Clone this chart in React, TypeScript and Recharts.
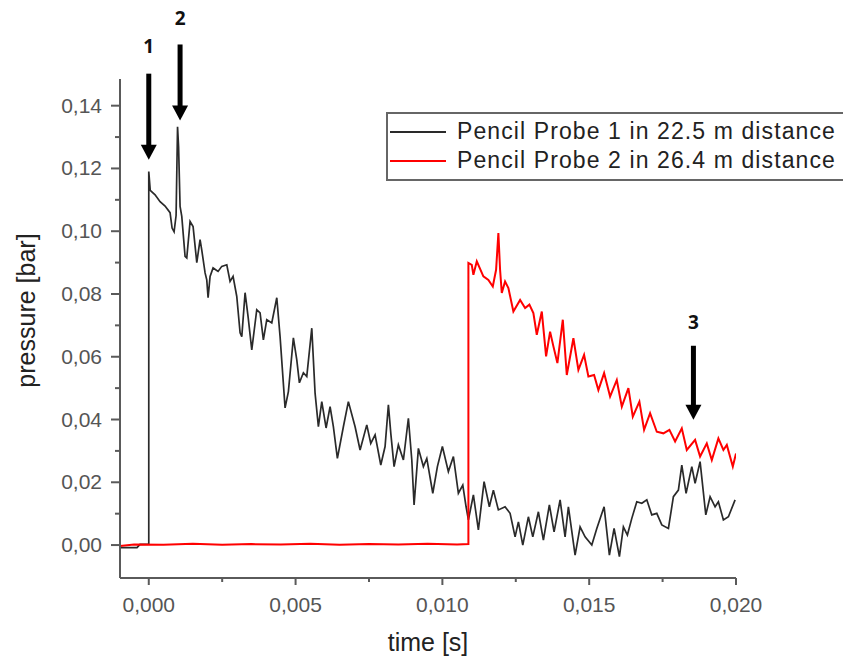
import React from 'react';
import { LineChart, Line, XAxis, YAxis, ReferenceLine, ReferenceDot, Legend } from 'recharts';

// ---- data (time [s], pressure [bar]) ----
const probe1Samples: [number, number][] = [
  [-0.00098, -0.0008], [-0.0004, -0.0008], [-0.0003, 0.0002], [0, 0.0003], [0, 0.119],
  [0.00005, 0.113], [0.000215, 0.1116], [0.000385, 0.1094], [0.000555, 0.108], [0.000725, 0.1059],
  [0.000794, 0.101], [0.000862, 0.0998], [0.00093, 0.105], [0.00098, 0.1333], [0.001015, 0.127],
  [0.001066, 0.1079], [0.001124, 0.1047], [0.001236, 0.092], [0.001294, 0.0915], [0.001407, 0.1031],
  [0.001509, 0.1015], [0.001635, 0.09], [0.001747, 0.0973], [0.001805, 0.094], [0.001918, 0.0867],
  [0.001975, 0.0845], [0.00202, 0.0788], [0.002088, 0.0856], [0.00219, 0.0883], [0.00236, 0.0872],
  [0.002486, 0.0888], [0.002657, 0.0893], [0.002769, 0.084], [0.002871, 0.0856], [0.002997, 0.0792],
  [0.00311, 0.0676], [0.003168, 0.0664], [0.00328, 0.0804], [0.003382, 0.0728], [0.003508, 0.0622],
  [0.003678, 0.075], [0.003791, 0.074], [0.003903, 0.0654], [0.004019, 0.0718], [0.004189, 0.0708],
  [0.00436, 0.0788], [0.004472, 0.0664], [0.004642, 0.0437], [0.004755, 0.0489], [0.004925, 0.066],
  [0.005041, 0.059], [0.00513, 0.0517], [0.005266, 0.0549], [0.005381, 0.0537], [0.005552, 0.0691],
  [0.005664, 0.0484], [0.005777, 0.0377], [0.005892, 0.0457], [0.006039, 0.0373], [0.006175, 0.0441],
  [0.006287, 0.0377], [0.006424, 0.0276], [0.006628, 0.0377], [0.006798, 0.0457], [0.007027, 0.0377],
  [0.007197, 0.0303], [0.007425, 0.0383], [0.007561, 0.0324], [0.007708, 0.0351], [0.007902, 0.0255],
  [0.008048, 0.0314], [0.008161, 0.0447], [0.008243, 0.0356], [0.008355, 0.025], [0.008501, 0.0319],
  [0.008672, 0.0271], [0.008842, 0.0404], [0.008958, 0.0271], [0.009036, 0.0128], [0.009183, 0.0308],
  [0.009353, 0.025], [0.009469, 0.0276], [0.009673, 0.0165], [0.00983, 0.025], [0.01, 0.0314],
  [0.010204, 0.0234], [0.010375, 0.0282], [0.010545, 0.0165], [0.010695, 0.0191], [0.010807, 0.0122],
  [0.010886, 0.008], [0.011056, 0.016], [0.011226, 0.0048], [0.01142, 0.0202], [0.0116, 0.0122],
  [0.011737, 0.0175], [0.011907, 0.0112], [0.012135, 0.0122], [0.012306, 0.0101], [0.012476, 0.0026],
  [0.012589, 0.0074], [0.012738, 0.0], [0.012929, 0.009], [0.013079, 0.0026], [0.01327, 0.0106],
  [0.01344, 0.0016], [0.013644, 0.0128], [0.013804, 0.0042], [0.014009, 0.0144], [0.014179, 0.0026],
  [0.014292, 0.0122], [0.01452, -0.0032], [0.01469, 0.0058], [0.01486, 0.0026], [0.015089, 0.0],
  [0.015259, 0.0053], [0.015508, 0.0122], [0.015688, -0.0032], [0.015848, 0.0053], [0.016029, -0.0037],
  [0.016165, 0.0058], [0.016301, 0.0032], [0.016451, 0.0085], [0.016621, 0.0138], [0.016792, 0.0133],
  [0.016962, 0.0144], [0.017132, 0.0096], [0.017302, 0.0101], [0.017473, 0.0064], [0.017698, 0.0053],
  [0.017868, 0.0154], [0.018038, 0.0175], [0.018154, 0.0255], [0.0183, 0.0165], [0.018495, 0.025],
  [0.018607, 0.0197], [0.018777, 0.0266], [0.018971, 0.0096], [0.019118, 0.0154], [0.019288, 0.0122],
  [0.0194, 0.0138], [0.019571, 0.008], [0.019741, 0.009], [0.019969, 0.0144],
];

const probe2Samples: [number, number][] = [
  [-0.00098, -0.0003], [-0.0005, 0.0002], [0.0005, 0.0001], [0.0015, 0.0004], [0.0025, 0.0001],
  [0.0035, 0.0003], [0.0045, 0.0002], [0.0055, 0.0004], [0.0065, 0.0001], [0.0075, 0.0003],
  [0.0085, 0.0002], [0.0095, 0.0004], [0.0105, 0.0002], [0.010886, 0.0003], [0.010886, 0.0899],
  [0.011001, 0.0893], [0.011056, 0.0861], [0.011172, 0.0904], [0.011396, 0.0856], [0.011567, 0.0845],
  [0.011717, 0.0824], [0.011829, 0.0877], [0.011907, 0.0994], [0.011965, 0.0877], [0.012023, 0.0803],
  [0.012135, 0.084], [0.012248, 0.0819], [0.012418, 0.0744], [0.012647, 0.0781], [0.012817, 0.0755],
  [0.012963, 0.0766], [0.013099, 0.0739], [0.013215, 0.067], [0.013386, 0.0744], [0.013532, 0.0601],
  [0.013668, 0.068], [0.013781, 0.0633], [0.013917, 0.058], [0.014101, 0.0718], [0.014237, 0.0542],
  [0.014462, 0.0659], [0.014632, 0.0558], [0.014826, 0.0606], [0.014973, 0.0537], [0.015167, 0.0542],
  [0.015313, 0.0494], [0.015508, 0.0548], [0.015712, 0.0473], [0.01594, 0.0526], [0.016111, 0.0441],
  [0.016335, 0.05], [0.016485, 0.0409], [0.01671, 0.0457], [0.01687, 0.0367], [0.017074, 0.042],
  [0.017302, 0.0361], [0.017527, 0.0356], [0.017732, 0.0367], [0.017926, 0.033], [0.018154, 0.0372],
  [0.018324, 0.0303], [0.018607, 0.0335], [0.018777, 0.0282], [0.019005, 0.0324], [0.019176, 0.0271],
  [0.0194, 0.034], [0.019571, 0.0303], [0.019687, 0.0319], [0.019891, 0.025], [0.02, 0.0292],
];

const seriesNames = ['Pencil Probe 1 in 22.5 m distance', 'Pencil Probe 2 in 26.4 m distance'];

const xMajorTicks = [0, 0.005, 0.01, 0.015, 0.02];
const xMinorTicks = [0.0025, 0.0075, 0.0125, 0.0175];
const yMajorTicks = [0, 0.02, 0.04, 0.06, 0.08, 0.1, 0.12, 0.14];
const yMinorTicks = [0.01, 0.03, 0.05, 0.07, 0.09, 0.11, 0.13];

const annotationLabels = ['1', '2', '3'];
const annotationTime = [0, 0.001066, 0.01855];
const annotationArrowTop = [0.1502, 0.1595, 0.0635];
const annotationArrowTip = [0.1228, 0.1353, 0.0399];
const annotationLabelY = [0.1589, 0.1678, 0.0712];

const xDomain: [number, number] = [-0.00098, 0.02];
const yDomain: [number, number] = [-0.0105, 0.1485];

// ---- chart ----
const probe1Data = probe1Samples.map(([t, p]) => ({ t, p }));
const probe2Data = probe2Samples.map(([t, p]) => ({ t, p }));
const xTicks = [...xMajorTicks, ...xMinorTicks].sort((a, b) => a - b);
const yTicks = [...yMajorTicks, ...yMinorTicks].sort((a, b) => a - b);

const FONT = '"Liberation Sans", Arial, Helvetica, sans-serif';
const AXIS = '#5a5a5a';
const TICK_TEXT = '#555';

const isIn = (v: number, arr: number[]) => arr.some((a) => Math.abs(a - v) < 1e-9);

const XTick = (props: any) => {
  const { x, y, payload } = props;
  const v = payload.value as number;
  const major = isIn(v, xMajorTicks);
  return (
    <g>
      <line x1={x} x2={x} y1={y} y2={y + (major ? 7 : 4)} stroke={AXIS} strokeWidth={2} />
      {major && (
        <text x={x} y={y + 34} textAnchor="middle" fontSize={21} fill={TICK_TEXT} fontFamily={FONT}>
          {v.toFixed(3).replace('.', ',')}
        </text>
      )}
    </g>
  );
};

const YTick = (props: any) => {
  const { x, y, payload } = props;
  const v = payload.value as number;
  const major = isIn(v, yMajorTicks);
  return (
    <g>
      <line x1={x - (major ? 9 : 5)} x2={x} y1={y} y2={y} stroke={AXIS} strokeWidth={2} />
      {major && (
        <text x={x - 18} y={y + 7} textAnchor="end" fontSize={21} fill={TICK_TEXT} fontFamily={FONT}>
          {v.toFixed(2).replace('.', ',')}
        </text>
      )}
    </g>
  );
};

const ArrowShape = (props: any) => {
  const { x1, y1, y2 } = props;
  const top = Math.min(y1, y2);
  const tip = Math.max(y1, y2);
  const head = 15;
  const half = 8;
  return (
    <g>
      <line x1={x1} x2={x1} y1={top} y2={tip - head + 1} stroke="#000" strokeWidth={5} />
      <polygon points={`${x1 - half},${tip - head} ${x1 + half},${tip - head} ${x1},${tip}`} fill="#000" />
    </g>
  );
};

const LegendBox = (props: any) => {
  const payload = props.payload || [];
  return (
    <div
      style={{
        border: '2px solid #666',
        background: '#fff',
        padding: '3px 0 4px 2px',
        width: 520,
        boxSizing: 'border-box',
        fontFamily: FONT,
        fontSize: 23,
        color: '#222',
      }}
    >
      {payload.map((item: any, i: number) => (
        <div key={i} style={{ display: 'flex', alignItems: 'center', height: 29 }}>
          <svg width={56} height={4} style={{ display: 'block', flex: 'none' }}>
            <line x1={0} x2={56} y1={2} y2={2} stroke={item.color} strokeWidth={2} />
          </svg>
          <span style={{ marginLeft: 11, whiteSpace: 'nowrap', letterSpacing: 1.1 }}>{item.value}</span>
        </div>
      ))}
    </div>
  );
};

export default function App() {
  return (
    <div
      style={{
        position: 'absolute',
        left: 0,
        top: 0,
        width: 843,
        height: 656,
        overflow: 'hidden',
        background: '#fff',
        fontFamily: FONT,
      }}
    >
      <LineChart width={843} height={656} margin={{ top: 79, right: 107, bottom: 0, left: 0 }}>
        <XAxis
          type="number"
          dataKey="t"
          domain={xDomain}
          allowDataOverflow
          ticks={xTicks}
          interval={0}
          height={78}
          axisLine={{ stroke: AXIS, strokeWidth: 2 }}
          tickLine={false}
          tickSize={0}
          tickMargin={0}
          tick={(p: any) => <XTick {...p} />}
          label={{
            content: (lp: any) => {
              const vb = lp.viewBox || {};
              return (
                <text x={vb.x + vb.width / 2} y={vb.y + 73} textAnchor="middle" fontSize={25} fill="#222" fontFamily={FONT}>
                  time [s]
                </text>
              );
            },
          }}
        />
        <YAxis
          type="number"
          dataKey="p"
          domain={yDomain}
          allowDataOverflow
          ticks={yTicks}
          interval={0}
          width={120}
          axisLine={{ stroke: AXIS, strokeWidth: 2 }}
          tickLine={false}
          tickSize={0}
          tickMargin={0}
          tick={(p: any) => <YTick {...p} />}
          label={{
            content: (lp: any) => {
              const vb = lp.viewBox || {};
              const cx = vb.x + 35;
              const cy = vb.y + vb.height / 2 - 18;
              return (
                <text
                  x={cx}
                  y={cy}
                  textAnchor="middle"
                  fontSize={25}
                  fill="#222"
                  fontFamily={FONT}
                  transform={`rotate(-90 ${cx} ${cy})`}
                >
                  pressure [bar]
                </text>
              );
            },
          }}
        />
        <Line
          data={probe1Data}
          dataKey="p"
          name={seriesNames[0]}
          type="linear"
          stroke="#2a2a2a"
          strokeWidth={1.7}
          dot={false}
          activeDot={false}
          isAnimationActive={false}
        />
        <Line
          data={probe2Data}
          dataKey="p"
          name={seriesNames[1]}
          type="linear"
          stroke="#ff0000"
          strokeWidth={2}
          dot={false}
          activeDot={false}
          isAnimationActive={false}
        />
        {annotationLabels.map((lab, i) => (
          <ReferenceLine
            key={'arrow' + i}
            segment={[
              { x: annotationTime[i], y: annotationArrowTop[i] },
              { x: annotationTime[i], y: annotationArrowTip[i] },
            ]}
            ifOverflow="visible"
            shape={(sp: any) => <ArrowShape {...sp} />}
          />
        ))}
        {annotationLabels.map((lab, i) => (
          <ReferenceDot
            key={'lab' + i}
            x={annotationTime[i]}
            y={annotationLabelY[i]}
            ifOverflow="visible"
            shape={(dp: any) => (
              <text
                x={dp.cx}
                y={dp.cy}
                textAnchor="middle"
                dominantBaseline="central"
                fontSize={19}
                fontWeight="bold"
                fill="#111"
                fontFamily='"Open Sans", "Noto Sans", sans-serif'
              >
                {lab}
              </text>
            )}
          />
        ))}
        <Legend
          layout="vertical"
          verticalAlign="middle"
          align="center"
          wrapperStyle={{ left: 386, top: 112, width: 520 }}
          content={(lp: any) => <LegendBox {...lp} />}
        />
      </LineChart>
    </div>
  );
}
